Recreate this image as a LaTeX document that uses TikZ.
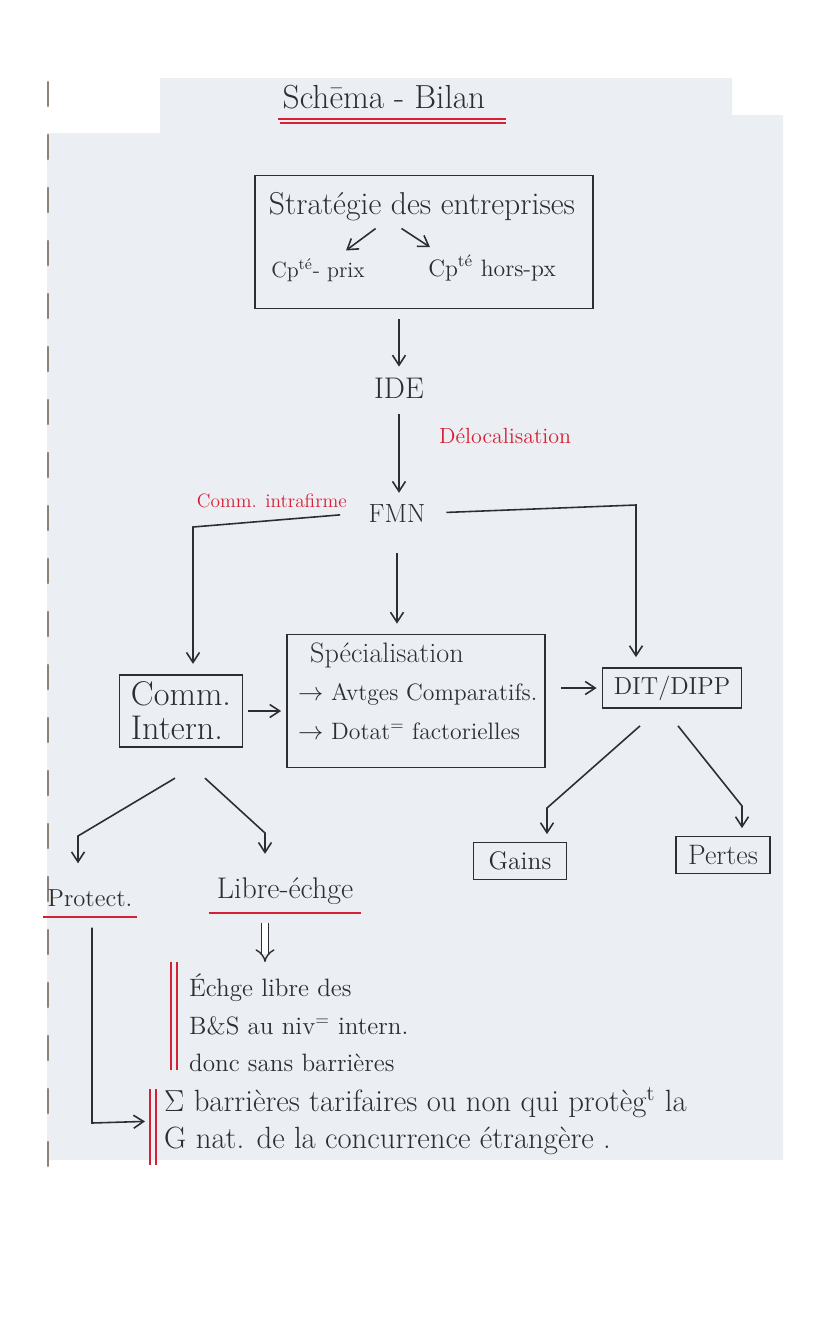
\documentclass[tikz,border=0pt]{standalone}
\usepackage{xcolor}
\usepackage{tikz}
\usetikzlibrary{positioning,shapes,arrows.meta}

\definecolor{encre}{RGB}{45,45,50}
\definecolor{stylo}{RGB}{214,32,52}
\definecolor{papier}{RGB}{235,238,242}
\definecolor{agrafe}{RGB}{140,130,120}

\begin{document}
\begin{tikzpicture}[
            x=0.02cm, y=-0.02cm,
            taille/.style={font=\fontsize{#1}{#1}\selectfont},
            boite/.style={draw=encre, line width=1pt, inner sep=4pt},
            texte/.style={text=encre},
            rouge/.style={text=stylo},
            fleche/.style={draw=encre, line width=0.9pt, -{Straight Barb[length=2mm,width=2.6mm]}},
            implique/.style={draw=encre, line width=0.8pt, double, double distance=3pt, -{Implies}},
            souligne/.style={draw=stylo, line width=1.2pt},
            barre/.style={draw=stylo, line width=1.4pt}
        ]
            \useasboundingbox (0,0) rectangle (828,1323);
            % Page
            \fill[papier] (47,133) -- (160,133) -- (160,78) -- (732,78) -- (732,115)
                -- (783,115) -- (783,1160) -- (47,1160) -- cycle;
            \foreach \i in {0,...,20}
                \draw[agrafe, line width=1.5pt, line cap=round] (48,82+53*\i) -- (48,106+53*\i);

            % Titre
            \node[texte, taille=19] (titre) at (384,97) {Schēma - Bilan};
            \draw[souligne] ([shift={(2,4)}]titre.south west) -- ([shift={(14,4)}]titre.south east);
            \draw[souligne] ([shift={(4,8)}]titre.south west) -- ([shift={(14,8)}]titre.south east);

            % Vertices
            \node[boite, minimum width=6.76cm, minimum height=2.66cm] (strat) at (424,242) {};
            \node[texte, taille=18] (strattitre) at (422,207) {Stratégie des entreprises};
            \node[texte, taille=12.5] (prix) at (318,270) {Cp\textsuperscript{té}- prix};
            \node[texte, taille=13.5] (horsprix) at (492,268) {Cp\textsuperscript{té} hors-px};
            \node[texte, taille=17] (ide) at (399,388) {IDE};
            \node[texte, taille=15] (fmn) at (397,513) {FMN};
            \node[rouge, taille=12.5, anchor=west] (deloc) at (433,436) {Délocalisation};
            \node[rouge, taille=11, anchor=east] (intra) at (353,501) {Comm. intrafirme};
            \node[boite, texte, taille=19.5, align=left, minimum width=2.46cm, minimum height=1.36cm] (comm) at (181,711) {Comm.\\Intern.};
            \node[boite, minimum width=5.16cm, minimum height=2.66cm] (spec) at (416,701) {};
            \node[texte, taille=16, anchor=west] (spectitre) at (304,655) {Spécialisation};
            \node[texte, taille=13.5, anchor=west] (avtges) at (292,694) {$\rightarrow$ Avtges Comparatifs.};
            \node[texte, taille=13.5, anchor=west] (dotat) at (292,731) {$\rightarrow$ Dotat\textsuperscript{=} factorielles};
            \node[boite, texte, taille=14, minimum width=2.78cm, minimum height=0.8cm] (dit) at (672,688) {DIT/DIPP};
            \node[boite, texte, taille=14.5, minimum width=1.86cm, minimum height=0.74cm] (gains) at (520,861) {Gains};
            \node[boite, texte, taille=16, minimum width=1.88cm, minimum height=0.74cm] (pertes) at (723,855) {Pertes};
            \node[texte, taille=14] (protect) at (90,898) {Protect.};
            \node[texte, taille=17] (libre) at (285,891) {Libre-échge};
            \draw[souligne] ([shift={(2,4)}]protect.south west) -- ([shift={(-2,4)}]protect.south east);
            \draw[souligne] ([shift={(-2,2)}]libre.south west) -- ([shift={(2,2)}]libre.south east);
            \node[texte, taille=14.3, anchor=north west, align=left] (bloc1) at (183,968)
                {Échge libre des\\[7pt]B\&S au niv\textsuperscript{=} intern.\\[7pt]donc sans barrières};
            \node[texte, taille=17.5, anchor=west, align=left] (bloc2) at (158,1121)
                {$\Sigma$ barrières tarifaires ou non qui protèg\textsuperscript{t} la\\[3.5pt]G nat. de la concurrence étrangère .};
            \draw[barre] ([shift={(-12,-6)}]bloc1.north west) -- ([shift={(-12,-8)}]bloc1.south west);
            \draw[barre] ([shift={(-6,-6)}]bloc1.north west) -- ([shift={(-6,-8)}]bloc1.south west);
            \draw[barre] ([shift={(-8,8)}]bloc2.north west) -- ([shift={(-8,4)}]bloc2.south west);
            \draw[barre] ([shift={(-2,8)}]bloc2.north west) -- ([shift={(-2,4)}]bloc2.south west);

            % Edges
            \draw[fleche, shorten <=1pt] ([shift={(-45,0)}]strattitre.south) -- ([shift={(28,-2)}]prix.north);
            \draw[fleche, shorten <=1pt] ([shift={(-22,0)}]strattitre.south) -- ([shift={(-62,-2)}]horsprix.north);
            \draw[fleche, shorten <=0.2cm, shorten >=0.1cm] (strat.south -| ide) -- (ide);
            \draw[fleche, shorten <=0.2cm, shorten >=0.1cm] (ide) -- (ide |- fmn.north);
            \coordinate (gauche) at (193,527);
            \coordinate (droite) at (636,505);
            \draw[fleche, shorten <=0.45cm, shorten >=0.2cm] (fmn.west) -- (gauche) -- (gauche |- comm.north);
            \draw[fleche, shorten <=0.3cm, shorten >=0.2cm] (fmn.east) -- (droite) -- (droite |- dit.north);
            \draw[fleche, shorten <=0.5cm, shorten >=0.2cm] (fmn.south) -- (fmn.south |- spec.north);
            \draw[fleche, shorten <=0.1cm, shorten >=0.1cm] (comm.east) -- (comm.east -| spec.west);
            \draw[fleche, shorten <=0.3cm, shorten >=0.1cm] (dit.west -| spec.east) -- (dit.west);
            \coordinate (g) at (547,808);
            \coordinate (p) at (742,806);
            \draw[fleche, shorten >=0.15cm] ([shift={(-32,17)}]dit.south) -- (g) -- (g |- gains.north);
            \draw[fleche, shorten >=0.15cm] ([shift={(6,17)}]dit.south) -- (p) -- (p |- pertes.north);
            \coordinate (pr) at (78,836);
            \coordinate (li) at (265,833);
            \draw[fleche, shorten >=0.4cm] ([shift={(-6,30)}]comm.south) -- (pr) -- (pr |- protect.north);
            \draw[fleche, shorten >=0.35cm] ([shift={(24,30)}]comm.south) -- (li) -- (li |- libre.north);
            \draw[implique] ([shift={(-20,12)}]libre.south) -- ([shift={(82,-6)}]bloc1.north west);
            \coordinate (coin) at (92,1123);
            \draw[fleche, shorten <=0.3cm, shorten >=0.26cm] (protect.south -| coin) -- (coin) -- (bloc2.west);
        \end{tikzpicture}
\end{document}
